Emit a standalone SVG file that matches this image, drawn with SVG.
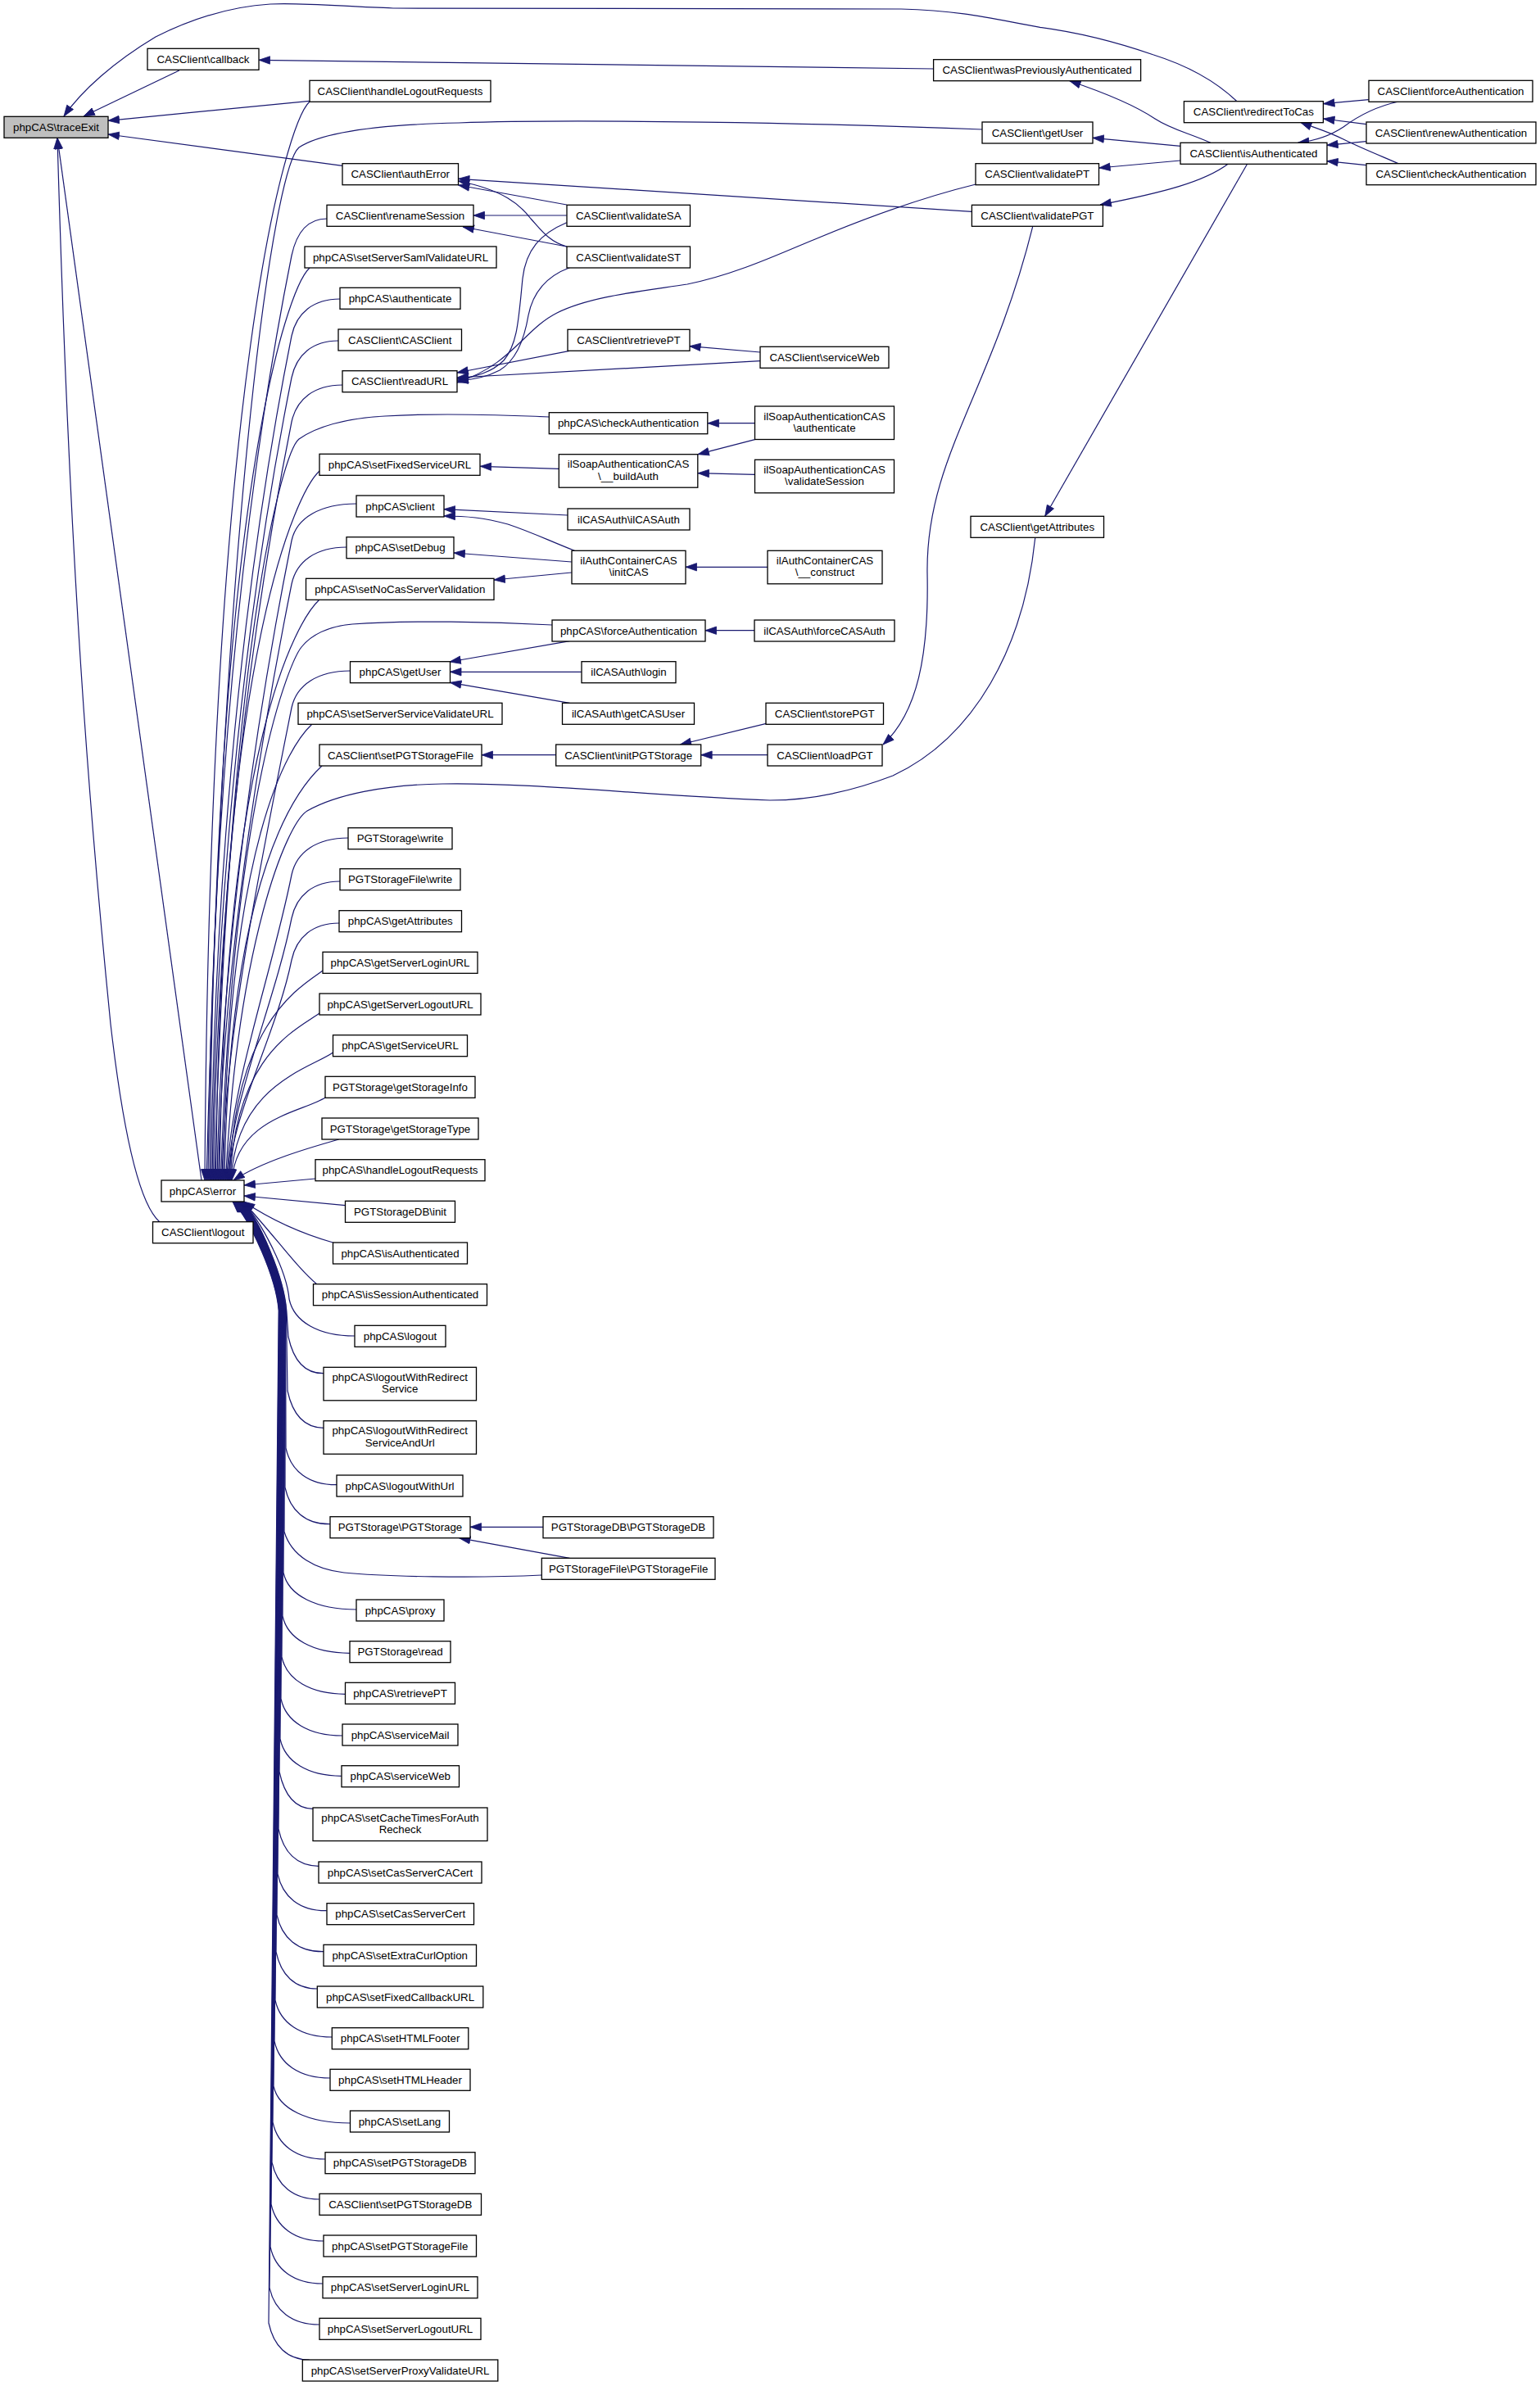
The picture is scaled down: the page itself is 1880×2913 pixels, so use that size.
<svg xmlns="http://www.w3.org/2000/svg" width="1880" height="2913" viewBox="0 0 1880 2913">
<defs>
<marker id="ah" markerUnits="userSpaceOnUse" markerWidth="15" markerHeight="11" viewBox="0 0 15 11" refX="14" refY="5.5" orient="auto">
<path d="M0.5,0.8 L14,5.5 L0.5,10.2 z" fill="#191970" stroke="#191970" stroke-width="0.8"/>
</marker>
<style>
.node rect{fill:#ffffff;stroke:#000000;stroke-width:1.3}
.root rect{fill:#bfbfbf}
text{font-family:"Liberation Sans",Arial,Helvetica,sans-serif;font-size:13.3px;text-anchor:middle;fill:#000000}
#edges path{fill:none;stroke:#191970;stroke-width:1.2;marker-end:url(#ah)}
</style>
</defs>
<rect x="0" y="0" width="1880" height="2913" fill="#ffffff"/>
<g id="edges">
<path d="M1509.5,123.3 C1485,100 1450,80 1407.6,66.7 C1365,52 1320,40 1269.7,33.3 C1220,25 1180,13 1100,11 L480,10 C420,8 370,3 330,5 C280,8 230,25 190,45 C140,75 100,110 78,142"/>
<path d="M218.8,86 L102,142"/>
<path d="M377.7,123.3 L132,147.3"/>
<path d="M418,202.3 L132,164"/>
<path d="M246,1441 L70,168.3"/>
<path d="M194.8,1491.7 C170,1470 150,1380 135,1250 C110,1000 85,700 70,168.3"/>
<path d="M1139.6,84 L316,73.3"/>
<path d="M1477.8,174.3 C1450,162 1430,158 1410,145 C1385,128 1345,112 1305.7,98.7"/>
<path d="M1441,178.3 L1334,168.3"/>
<path d="M1441,196 L1341.7,205"/>
<path d="M1499.4,200 C1470,222 1420,235 1343,250"/>
<path d="M1707.4,124 C1680,130 1660,140 1640,155 C1625,165 1605,172 1584.5,174.3"/>
<path d="M1670.8,121.7 L1615.6,126.7"/>
<path d="M1667.8,151.7 L1615.6,145"/>
<path d="M1707.4,199.7 C1680,188 1660,180 1640,170 C1620,160 1605,156 1587.5,149.3"/>
<path d="M1667.8,172.7 L1619.8,177.3"/>
<path d="M1667.8,201.7 L1619.8,196.7"/>
<path d="M1522.7,200 L1275.7,630.3"/>
<path d="M1260.7,276.7 C1210,480 1130,560 1132,700 C1134,800 1120,870 1078,909"/>
<path d="M1186.4,258.3 L559.5,218.3"/>
<path d="M691.8,250 L559.5,226"/>
<path d="M691.8,301 C670,295 660,280 648,267 C635,250 615,232 559.5,221"/>
<path d="M691.8,263 L578,263"/>
<path d="M691.8,301 L565,277"/>
<path d="M691.8,271.7 C660,285 642,305 638,340 C633,390 632,420 615,440 C600,455 580,460 558,463"/>
<path d="M695.4,326.7 C665,338 650,360 645,385 C640,415 630,440 610,452 C595,460 580,463 558,465"/>
<path d="M1191.2,225 C1130,240 1060,265 1000,290 C960,306 900,335 839,347 C780,356 720,362 680,382 C640,402 625,445 558,467"/>
<path d="M695.4,428.3 L558,455"/>
<path d="M928,440.7 L558,461"/>
<path d="M928,430 L841.7,422.7"/>
<path d="M921.5,516.7 L864,516.7"/>
<path d="M921.5,536.7 L852,554.7"/>
<path d="M921.5,579.3 L852,577.7"/>
<path d="M682.3,572.3 L586.3,569.3"/>
<path d="M693,629 L542,621.7"/>
<path d="M701.4,672.3 C670,660 650,650 620,640 C590,632 570,630 542,630"/>
<path d="M697.8,686 L554,675"/>
<path d="M697.8,699 L603,708"/>
<path d="M937,692.3 L837,692.3"/>
<path d="M921,769.7 L861,769.7"/>
<path d="M695.4,782.7 L549,808"/>
<path d="M709.8,820.3 L549.5,820.3"/>
<path d="M695.4,858.3 L549.5,833.3"/>
<path d="M935.3,883.3 L830.3,909"/>
<path d="M937,921.7 L855.7,921.7"/>
<path d="M678.7,921.7 L588,921.7"/>
<path d="M663,1864.3 L574,1864.3"/>
<path d="M695.4,1902.3 L560.5,1877.7"/>
<path d="M378,124 C350,150 256,453 250,1441"/>
<path d="M1199,158 C1000,150 700,145 560,150 C470,152 395,160 365,180 C335,205 275,600 252,1441"/>
<path d="M399,267 C375.4,267 362,284 356,312 C281.5,684.6 257,1102.3 254,1441"/>
<path d="M378,327 C350,353 262,605.5 256,1441"/>
<path d="M415,365 C382.6,365 362,382 356,410 C288,750.2 260.5,1131.7 257.5,1441"/>
<path d="M413,416 C381.6,416 362,433 356,461 C291.3,784.4 262,1147 259,1441"/>
<path d="M418,470 C383.9,470 362,487 356,515 C294.9,820.6 263.5,1163.2 260.5,1441"/>
<path d="M670.3,509 C600,506 520,505 470,508 C420,511 385,522 365,536 C345,552 280,780 262,1441"/>
<path d="M390,575 C362,601 269.5,791.5 263.5,1441"/>
<path d="M435,615 C391.5,615 362,632 356,660 C304.5,917.7 268,1206.7 265,1441"/>
<path d="M423,668 C386.2,668 362,685 356,713 C308,953.2 269.5,1222.6 266.5,1441"/>
<path d="M390,732 C362,758 274,909 268,1441"/>
<path d="M674,763 C600,759 500,757 430,762 C400,765 380,775 368,790 C355,806 285,960 269.5,1441"/>
<path d="M427.5,819 C388.2,819 362,836 356,864 C317.9,1054.4 274,1267.9 271,1441"/>
<path d="M381,884 C353,910 278.5,1023 272.5,1441"/>
<path d="M393,935 C365,961 280,1061.5 274,1441"/>
<path d="M1263.7,656.7 C1250,790 1190,900 1090,947 C1030,970 980,977 940,977 C800,972 650,955 540,957 C470,958 410,970 375,990 C350,1005 290,1150 275.5,1441"/>
<path d="M425,1023 C387,1023 362,1040 356,1068 C331.4,1191.1 280,1329.1 277,1441"/>
<path d="M415,1076 C382.6,1076 362,1093 356,1121 C334.9,1226.6 281,1345 278,1441"/>
<path d="M414,1127 C382.1,1127 362,1144 356,1172 C338.2,1260.8 282,1360.3 279,1441"/>
<path d="M394,1185 C366,1205 286,1249 280,1441"/>
<path d="M390,1237 C362,1257 287,1288 281,1441"/>
<path d="M406.5,1285 C378,1305 288,1324 282,1441"/>
<path d="M397,1340 C369,1358 289,1365 283,1441"/>
<path d="M413.7,1391 C375,1402 320,1418 285,1441"/>
<path d="M385,1439 L298,1447"/>
<path d="M421.5,1471.7 L298,1460"/>
<path d="M406.5,1517 C375,1508 335,1492 297.5,1467"/>
<path d="M386.7,1567.7 C365,1550 340,1515 297,1467"/>
<path d="M432.9,1631 C389,1631 359,1614 353,1586 C350,1550 318,1490 296,1467"/>
<path d="M395,1676.7 C371.4,1677 358,1660 352,1632 L349.8,1600 C346.8,1560 317.5,1490 295.5,1467"/>
<path d="M395,1743.3 C370.8,1743 357,1726 351,1698 L349.4,1600 C346.4,1560 317,1490 295,1467"/>
<path d="M411.3,1812.7 C377,1813 355,1796 349,1768 L348.6,1600 C345.6,1560 316.5,1490 294.5,1467"/>
<path d="M402.9,1860.7 C372.7,1861 354,1844 348,1816 L348.2,1600 C345.2,1560 316,1490 294,1467"/>
<path d="M661.3,1923 C580,1927 470,1925 420,1920 C385,1916 356,1900 347,1870 L347.8,1600 C344.8,1560 315.5,1490 293.5,1467"/>
<path d="M435.3,1965 C386.2,1965 352,1948 346,1920 L347.4,1600 C344.4,1560 315,1490 293,1467"/>
<path d="M426.9,2018.3 C381.9,2018 351,2001 345,1973 L347,1600 C344,1560 314.5,1490 292.5,1467"/>
<path d="M421.5,2068.3 C378.9,2068 350,2051 344,2023 L346.6,1600 C343.6,1560 314,1490 292,1467"/>
<path d="M417.9,2119 C376.7,2119 349,2102 343,2074 L346.2,1600 C343.2,1560 313.5,1490 291.5,1467"/>
<path d="M416.7,2168.3 C375.6,2168 348,2151 342,2123 L345.8,1600 C342.8,1560 313,1490 291,1467"/>
<path d="M381.9,2208.3 C359.4,2208 347,2191 341,2163 L345.4,1600 C342.4,1560 312.5,1490 290.5,1467"/>
<path d="M389.1,2278.3 C362.1,2278 346,2261 340,2233 L345,1600 C342,1560 312,1490 290,1467"/>
<path d="M398.7,2332.7 C365.9,2333 345,2316 339,2288 L344.6,1600 C341.6,1560 311.5,1490 289.5,1467"/>
<path d="M395,2382.7 C363.7,2383 344,2366 338,2338 L344.2,1600 C341.2,1560 311,1490 289,1467"/>
<path d="M387.3,2428 C359.6,2428 343,2411 337,2383 L343.8,1600 C340.8,1560 310.5,1490 288.5,1467"/>
<path d="M405.3,2487 C367.2,2487 342,2470 336,2442 L343.4,1600 C340.4,1560 310,1490 288,1467"/>
<path d="M402.9,2537 C365.6,2537 341,2520 335,2492 L343,1600 C340,1560 309.5,1490 287.5,1467"/>
<path d="M427.5,2592 C376.1,2592 340,2575 334,2547 L342.6,1600 C339.6,1560 309,1490 287,1467"/>
<path d="M396.9,2636 C361.8,2636 339,2619 333,2591 L342.2,1600 C339.2,1560 308.5,1490 286.5,1467"/>
<path d="M389.7,2685 C358,2685 338,2668 332,2640 L341.8,1600 C338.8,1560 308,1490 286,1467"/>
<path d="M395,2736 C359.8,2736 337,2719 331,2691 L341.4,1600 C338.4,1560 307.5,1490 285.5,1467"/>
<path d="M393.9,2788 C358.8,2788 336,2771 330,2743 L341,1600 C338,1560 307,1490 285,1467"/>
<path d="M389.7,2838 C356.3,2838 335,2821 329,2793 L340.6,1600 C337.6,1560 306.5,1490 284.5,1467"/>
<path d="M377.7,2881 C350.4,2881 334,2864 328,2836 L340.2,1600 C337.2,1560 306,1490 284,1467"/>
</g>
<g id="n_traceExit" class="node root"><rect x="5" y="142.3" width="127" height="26"/><text x="68.5" y="160">phpCAS\traceExit</text></g>
<g id="n_callback" class="node"><rect x="180" y="59.3" width="136" height="26"/><text x="248" y="77">CASClient\callback</text></g>
<g id="n_error" class="node"><rect x="197" y="1441" width="101" height="26"/><text x="247.5" y="1458.7">phpCAS\error</text></g>
<g id="n_casLogout" class="node"><rect x="186.5" y="1491.7" width="122.5" height="26"/><text x="247.75" y="1509.4">CASClient\logout</text></g>
<g id="n_casHandleLogout" class="node"><rect x="378" y="98.3" width="221" height="26"/><text x="488.5" y="116">CASClient\handleLogoutRequests</text></g>
<g id="n_authError" class="node"><rect x="418" y="199.7" width="141.5" height="26"/><text x="488.75" y="217.4">CASClient\authError</text></g>
<g id="n_renameSession" class="node"><rect x="399" y="250.3" width="179" height="26"/><text x="488.5" y="268">CASClient\renameSession</text></g>
<g id="n_setServerSaml" class="node"><rect x="372" y="301" width="234" height="26"/><text x="489" y="318.7">phpCAS\setServerSamlValidateURL</text></g>
<g id="n_phpAuthenticate" class="node"><rect x="415" y="351.3" width="147" height="26"/><text x="488.5" y="369">phpCAS\authenticate</text></g>
<g id="n_casConstruct" class="node"><rect x="413" y="402" width="150.5" height="26"/><text x="488.25" y="419.7">CASClient\CASClient</text></g>
<g id="n_readURL" class="node"><rect x="418" y="452.7" width="140" height="26"/><text x="488" y="470.4">CASClient\readURL</text></g>
<g id="n_setFixedServiceURL" class="node"><rect x="390" y="554.3" width="196" height="26"/><text x="488" y="572">phpCAS\setFixedServiceURL</text></g>
<g id="n_client" class="node"><rect x="435" y="605" width="107" height="26"/><text x="488.5" y="622.7">phpCAS\client</text></g>
<g id="n_setDebug" class="node"><rect x="423" y="655.7" width="131" height="26"/><text x="488.5" y="673.4">phpCAS\setDebug</text></g>
<g id="n_setNoCas" class="node"><rect x="373.5" y="706.3" width="229.5" height="26"/><text x="488.25" y="724">phpCAS\setNoCasServerValidation</text></g>
<g id="n_phpGetUser" class="node"><rect x="427.5" y="807.7" width="122" height="26"/><text x="488.5" y="825.4">phpCAS\getUser</text></g>
<g id="n_setServerServiceValidateURL" class="node"><rect x="364" y="858.3" width="249" height="26"/><text x="488.5" y="876">phpCAS\setServerServiceValidateURL</text></g>
<g id="n_casSetPGTStorageFile" class="node"><rect x="390" y="909" width="198" height="26"/><text x="489" y="926.7">CASClient\setPGTStorageFile</text></g>
<g id="n_pgtWrite" class="node"><rect x="425" y="1010.7" width="127" height="26"/><text x="488.5" y="1028.4">PGTStorage\write</text></g>
<g id="n_pgtFileWrite" class="node"><rect x="415" y="1060.7" width="147" height="26"/><text x="488.5" y="1078.4">PGTStorageFile\write</text></g>
<g id="n_phpGetAttributes" class="node"><rect x="414" y="1111.7" width="149.5" height="26"/><text x="488.75" y="1129.4">phpCAS\getAttributes</text></g>
<g id="n_getServerLoginURL" class="node"><rect x="394" y="1162.3" width="189" height="26"/><text x="488.5" y="1180">phpCAS\getServerLoginURL</text></g>
<g id="n_getServerLogoutURL" class="node"><rect x="390" y="1213" width="197" height="26"/><text x="488.5" y="1230.7">phpCAS\getServerLogoutURL</text></g>
<g id="n_getServiceURL" class="node"><rect x="406.5" y="1263.7" width="164" height="26"/><text x="488.5" y="1281.4">phpCAS\getServiceURL</text></g>
<g id="n_getStorageInfo" class="node"><rect x="397" y="1314.3" width="183" height="26"/><text x="488.5" y="1332">PGTStorage\getStorageInfo</text></g>
<g id="n_getStorageType" class="node"><rect x="393" y="1365" width="191" height="26"/><text x="488.5" y="1382.7">PGTStorage\getStorageType</text></g>
<g id="n_phpHandleLogout" class="node"><rect x="385" y="1415.7" width="207" height="26"/><text x="488.5" y="1433.4">phpCAS\handleLogoutRequests</text></g>
<g id="n_pgtDBInit" class="node"><rect x="421.5" y="1466.3" width="134" height="26"/><text x="488.5" y="1484">PGTStorageDB\init</text></g>
<g id="n_phpIsAuth" class="node"><rect x="406.5" y="1517" width="164" height="26"/><text x="488.5" y="1534.7">phpCAS\isAuthenticated</text></g>
<g id="n_isSessionAuth" class="node"><rect x="382.5" y="1567.7" width="212" height="26"/><text x="488.5" y="1585.4">phpCAS\isSessionAuthenticated</text></g>
<g id="n_logout" class="node"><rect x="433" y="1618.3" width="111" height="26"/><text x="488.5" y="1636">phpCAS\logout</text></g>
<g id="n_logoutRS" class="node"><rect x="395" y="1669.3" width="186.5" height="40.5"/><text x="488.25" y="1685.8">phpCAS\logoutWithRedirect</text><text x="488.25" y="1700.3">Service</text></g>
<g id="n_logoutRSU" class="node"><rect x="395" y="1734.7" width="186.5" height="40.5"/><text x="488.25" y="1751.2">phpCAS\logoutWithRedirect</text><text x="488.25" y="1765.7">ServiceAndUrl</text></g>
<g id="n_logoutWithUrl" class="node"><rect x="411" y="1801" width="154" height="26"/><text x="488" y="1818.7">phpCAS\logoutWithUrl</text></g>
<g id="n_pgtStorage" class="node"><rect x="403" y="1851.7" width="171" height="26"/><text x="488.5" y="1869.4">PGTStorage\PGTStorage</text></g>
<g id="n_proxy" class="node"><rect x="435" y="1953" width="107" height="26"/><text x="488.5" y="1970.7">phpCAS\proxy</text></g>
<g id="n_pgtRead" class="node"><rect x="427" y="2003.7" width="123" height="26"/><text x="488.5" y="2021.4">PGTStorage\read</text></g>
<g id="n_phpRetrievePT" class="node"><rect x="421.5" y="2054.3" width="134" height="26"/><text x="488.5" y="2072">phpCAS\retrievePT</text></g>
<g id="n_serviceMail" class="node"><rect x="418" y="2105" width="141" height="26"/><text x="488.5" y="2122.7">phpCAS\serviceMail</text></g>
<g id="n_phpServiceWeb" class="node"><rect x="417" y="2155.7" width="143.5" height="26"/><text x="488.75" y="2173.4">phpCAS\serviceWeb</text></g>
<g id="n_setCacheTimes" class="node"><rect x="382" y="2207" width="213" height="40.5"/><text x="488.5" y="2223.5">phpCAS\setCacheTimesForAuth</text><text x="488.5" y="2238">Recheck</text></g>
<g id="n_setCasServerCACert" class="node"><rect x="389" y="2273" width="199" height="26"/><text x="488.5" y="2290.7">phpCAS\setCasServerCACert</text></g>
<g id="n_setCasServerCert" class="node"><rect x="399" y="2323.7" width="179.5" height="26"/><text x="488.75" y="2341.4">phpCAS\setCasServerCert</text></g>
<g id="n_setExtraCurlOption" class="node"><rect x="395" y="2374.3" width="186.5" height="26"/><text x="488.25" y="2392">phpCAS\setExtraCurlOption</text></g>
<g id="n_setFixedCallbackURL" class="node"><rect x="387.3" y="2425" width="202.5" height="26"/><text x="488.55" y="2442.7">phpCAS\setFixedCallbackURL</text></g>
<g id="n_setHTMLFooter" class="node"><rect x="405.3" y="2475.7" width="166.5" height="26"/><text x="488.55" y="2493.4">phpCAS\setHTMLFooter</text></g>
<g id="n_setHTMLHeader" class="node"><rect x="403" y="2526.3" width="171" height="26"/><text x="488.5" y="2544">phpCAS\setHTMLHeader</text></g>
<g id="n_setLang" class="node"><rect x="427.5" y="2577" width="121" height="26"/><text x="488" y="2594.7">phpCAS\setLang</text></g>
<g id="n_phpSetPGTStorageDB" class="node"><rect x="397" y="2627.7" width="183" height="26"/><text x="488.5" y="2645.4">phpCAS\setPGTStorageDB</text></g>
<g id="n_casSetPGTStorageDB" class="node"><rect x="390" y="2678.3" width="197.5" height="26"/><text x="488.75" y="2696">CASClient\setPGTStorageDB</text></g>
<g id="n_phpSetPGTStorageFile" class="node"><rect x="395" y="2729" width="186.5" height="26"/><text x="488.25" y="2746.7">phpCAS\setPGTStorageFile</text></g>
<g id="n_setServerLoginURL" class="node"><rect x="394" y="2779.7" width="189" height="26"/><text x="488.5" y="2797.4">phpCAS\setServerLoginURL</text></g>
<g id="n_setServerLogoutURL" class="node"><rect x="390" y="2830.3" width="197" height="26"/><text x="488.5" y="2848">phpCAS\setServerLogoutURL</text></g>
<g id="n_setServerProxyValidateURL" class="node"><rect x="369.3" y="2881" width="238.5" height="26"/><text x="488.55" y="2898.7">phpCAS\setServerProxyValidateURL</text></g>
<g id="n_validateSA" class="node"><rect x="692" y="250.3" width="150.5" height="26"/><text x="767.25" y="268">CASClient\validateSA</text></g>
<g id="n_validateST" class="node"><rect x="692" y="301" width="150.5" height="26"/><text x="767.25" y="318.7">CASClient\validateST</text></g>
<g id="n_casRetrievePT" class="node"><rect x="693" y="402.3" width="149" height="26"/><text x="767.5" y="420">CASClient\retrievePT</text></g>
<g id="n_phpCheckAuth" class="node"><rect x="670.3" y="503.7" width="193.5" height="26"/><text x="767" y="521.4">phpCAS\checkAuthentication</text></g>
<g id="n_buildAuth" class="node"><rect x="682.3" y="554.7" width="169.5" height="40.5"/><text x="767" y="571.2">ilSoapAuthenticationCAS</text><text x="767" y="585.7">\__buildAuth</text></g>
<g id="n_ilCASAuth" class="node"><rect x="693" y="621" width="149" height="26"/><text x="767.5" y="638.7">ilCASAuth\ilCASAuth</text></g>
<g id="n_initCAS" class="node"><rect x="698" y="672.3" width="139" height="40.5"/><text x="767.5" y="688.8">ilAuthContainerCAS</text><text x="767.5" y="703.3">\initCAS</text></g>
<g id="n_phpForceAuth" class="node"><rect x="674" y="757" width="187" height="26"/><text x="767.5" y="774.7">phpCAS\forceAuthentication</text></g>
<g id="n_login" class="node"><rect x="710" y="807.7" width="115" height="26"/><text x="767.5" y="825.4">ilCASAuth\login</text></g>
<g id="n_getCASUser" class="node"><rect x="686.5" y="858.3" width="161" height="26"/><text x="767" y="876">ilCASAuth\getCASUser</text></g>
<g id="n_initPGTStorage" class="node"><rect x="678.7" y="909" width="177" height="26"/><text x="767.2" y="926.7">CASClient\initPGTStorage</text></g>
<g id="n_pgtStorageDB" class="node"><rect x="663" y="1851.7" width="208" height="26"/><text x="767" y="1869.4">PGTStorageDB\PGTStorageDB</text></g>
<g id="n_pgtStorageFile" class="node"><rect x="661.3" y="1902.3" width="211.7" height="26"/><text x="767.15" y="1920">PGTStorageFile\PGTStorageFile</text></g>
<g id="n_casServiceWeb" class="node"><rect x="928" y="423.3" width="157" height="26"/><text x="1006.5" y="441">CASClient\serviceWeb</text></g>
<g id="n_soapAuthenticate" class="node"><rect x="921.5" y="496" width="170" height="40.5"/><text x="1006.5" y="512.5">ilSoapAuthenticationCAS</text><text x="1006.5" y="527">\authenticate</text></g>
<g id="n_validateSession" class="node"><rect x="921.5" y="561.3" width="170" height="40.5"/><text x="1006.5" y="577.8">ilSoapAuthenticationCAS</text><text x="1006.5" y="592.3">\validateSession</text></g>
<g id="n_construct" class="node"><rect x="937" y="672.3" width="140" height="40.5"/><text x="1007" y="688.8">ilAuthContainerCAS</text><text x="1007" y="703.3">\__construct</text></g>
<g id="n_forceCASAuth" class="node"><rect x="921" y="757" width="171" height="26"/><text x="1006.5" y="774.7">ilCASAuth\forceCASAuth</text></g>
<g id="n_storePGT" class="node"><rect x="935" y="858.3" width="143.5" height="26"/><text x="1006.75" y="876">CASClient\storePGT</text></g>
<g id="n_loadPGT" class="node"><rect x="937" y="909" width="140" height="26"/><text x="1007" y="926.7">CASClient\loadPGT</text></g>
<g id="n_wasPrev" class="node"><rect x="1139.6" y="72.7" width="253" height="26"/><text x="1266.1" y="90.4">CASClient\wasPreviouslyAuthenticated</text></g>
<g id="n_casGetUser" class="node"><rect x="1199" y="149" width="135" height="26"/><text x="1266.5" y="166.7">CASClient\getUser</text></g>
<g id="n_validatePT" class="node"><rect x="1191" y="199.7" width="150.5" height="26"/><text x="1266.25" y="217.4">CASClient\validatePT</text></g>
<g id="n_validatePGT" class="node"><rect x="1186.4" y="250.3" width="160" height="26"/><text x="1266.4" y="268">CASClient\validatePGT</text></g>
<g id="n_casGetAttributes" class="node"><rect x="1185" y="630.3" width="162.5" height="26"/><text x="1266.25" y="648">CASClient\getAttributes</text></g>
<g id="n_redirectToCas" class="node"><rect x="1445.4" y="123.7" width="170" height="26"/><text x="1530.4" y="141.4">CASClient\redirectToCas</text></g>
<g id="n_isAuth" class="node"><rect x="1441" y="174.3" width="179" height="26"/><text x="1530.5" y="192">CASClient\isAuthenticated</text></g>
<g id="n_forceAuth" class="node"><rect x="1671" y="98.3" width="200" height="26"/><text x="1771" y="116">CASClient\forceAuthentication</text></g>
<g id="n_renewAuth" class="node"><rect x="1668" y="149" width="207" height="26"/><text x="1771.5" y="166.7">CASClient\renewAuthentication</text></g>
<g id="n_checkAuth" class="node"><rect x="1668" y="199.7" width="207" height="26"/><text x="1771.5" y="217.4">CASClient\checkAuthentication</text></g>
</svg>
